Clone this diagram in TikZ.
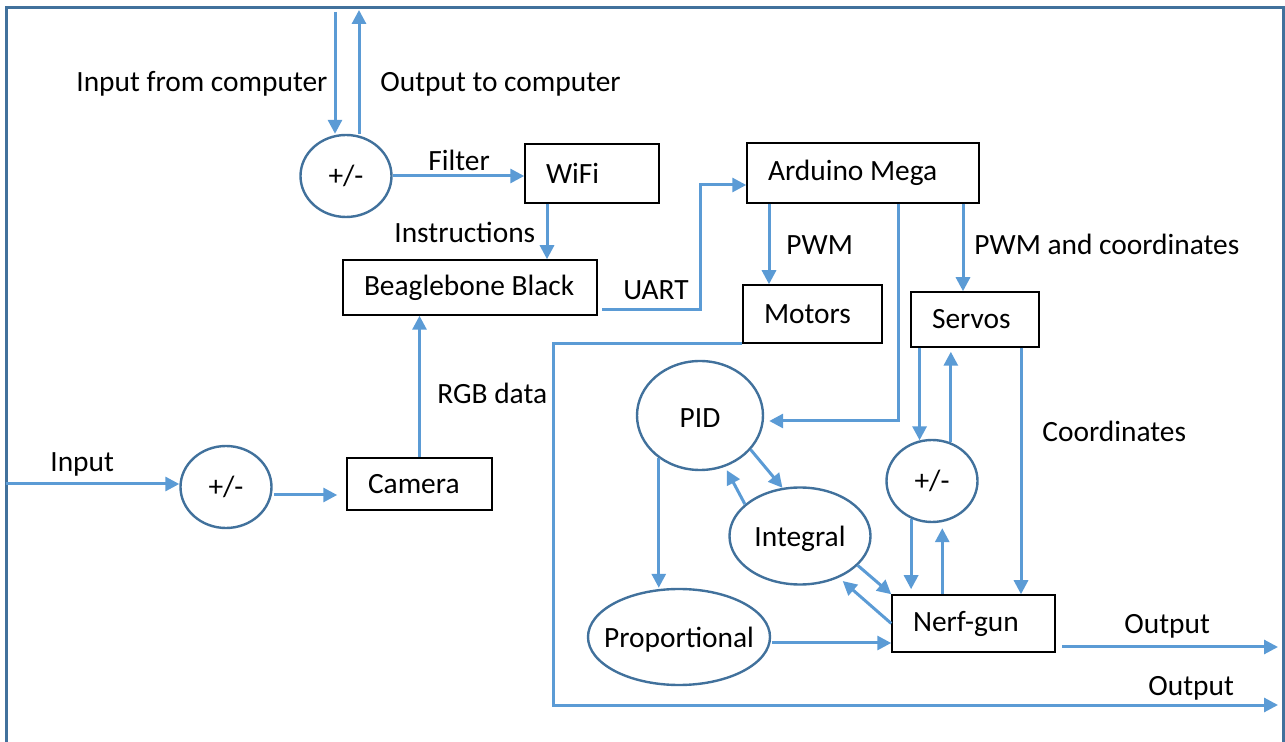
\documentclass[tikz,border=0pt]{standalone}
\usepackage{fontspec}
\setmainfont{Carlito}
\usetikzlibrary{calc}
\usetikzlibrary{shapes.geometric}
\usetikzlibrary{arrows.meta}
\definecolor{flowblue}{RGB}{91,155,213}
\definecolor{edgeblue}{RGB}{65,113,156}

\begin{document}
\begin{tikzpicture}[x=0.5pt,y=-0.5pt,font=\fontsize{14.7}{18}\selectfont]
	\tikzset{flow/.style={draw=flowblue,line width=1.5pt,-{Triangle[length=7pt,width=7pt]}}}
	\tikzstyle{every edge}=[draw,flow]
	\tikzset{block/.style 2 args={draw,line width=0.75pt,inner xsep=0pt,inner ysep=0pt,text width=#1,minimum height=#2,align=left,execute at begin node={\spaceskip=0pt\xspaceskip=0pt\hspace*{10.5pt}}}}
	\tikzset{oval/.style 2 args={ellipse,draw=edgeblue,line width=1.2pt,inner sep=0pt,minimum width=#1,minimum height=#2}}
	\tikzset{sumjunction/.style={oval={45.5pt}{41pt}}}
	\tikzset{lbl/.style={inner sep=0pt,anchor=west}}
	\tikzset{every label/.style={yshift=-1.5pt}}
	\useasboundingbox (0,0) rectangle (1285,742);
	\draw[edgeblue,line width=1.5pt] (6,8) rectangle (1283,760);
	% Place Nodes
	\node[sumjunction] (S1) at (346,176) {+/-};
	\node[block={67pt}{29.5pt}] (WiFi) at (592,173.5) {WiFi};
	\node[block={127pt}{27.5pt}] (BB) at (470,287.5) {Beaglebone Black};
	\node[block={116pt}{30pt}] (Ard) at (863,173) {Arduino Mega};
	\node[block={69.5pt}{29pt}] (Motors) at (812.5,314) {Motors};
	\node[block={64pt}{27.5pt}] (Servos) at (975,319.5) {Servos};
	\node[block={81.5pt}{28.5pt}] (Nerf) at (973.5,623.5) {Nerf-gun};
	\node[block={72.5pt}{26pt}] (Camera) at (419.5,484) {Camera};
	\node[sumjunction] (S2) at (226,487) {+/-};
	\node[sumjunction] (S3) at (932,481) {+/-};
	\node[oval={63pt}{54.5pt},label=center:PID] (PID) at (700,415.5) {};
	\node[oval={70.5pt}{48.5pt},label=center:Integral] (Int) at (800,536) {};
	\node[oval={91pt}{48pt},label=center:Proportional] (Prop) at (679,637) {};
	% Free ends and bends
	\coordinate (pcin) at (335,12);
	\coordinate (pcout) at (359,10);
	\coordinate (ins) at (547,0);
	\coordinate (uart1) at (602,310);
	\coordinate (uart2) at (700,185);
	\coordinate (pwm) at (769,0);
	\coordinate (pwmc) at (963,0);
	\coordinate (pidx) at (898,0);
	\coordinate (crd) at (1021,0);
	\coordinate (mo) at (553,705);
	\coordinate (out1) at (1278,647);
	\coordinate (out2) at (1278,705);
	\coordinate (inp) at (6,484);
	\coordinate (scam) at (274,495);
	\coordinate (pn) at (772,643);
	\coordinate (nout) at (1062,647);
	% Label nodes
	\node[lbl] (lInComp) at (76,84) {Input from computer};
	\node[lbl] (lOutComp) at (380,84) {Output to computer};
	\node[lbl] (lFilter) at (428,160) {Filter};
	\node[lbl] (lInstr) at (394,232) {Instructions};
	\node[lbl] (lUart) at (623,290) {UART};
	\node[lbl] (lPwm) at (786,245) {PWM};
	\node[lbl] (lPwmC) at (974,244) {PWM and coordinates};
	\node[lbl] (lCoord) at (1042,431) {Coordinates};
	\node[lbl] (lRgb) at (437,393) {RGB data};
	\node[lbl] (lInput) at (50,464) {Input};
	\node[lbl] (lOut1) at (1124,626) {Output};
	\node[lbl] (lOut2) at (1148,688) {Output};
	% Draw flow paths
	\path
	(pcin) edge (pcin |- S1.north)
	(S1.north -| pcout) edge (pcout)
	(S1.east) edge (S1.east -| WiFi.west)
	(WiFi.south -| ins) edge (BB.north -| ins)
	(Ard.south -| pwm) edge (Motors.north -| pwm)
	(Ard.south -| pwmc) edge (Servos.north -| pwmc)
	(Servos.south -| crd) edge (Nerf.north -| crd)
	(S3.107 |- Servos.south) edge (S3.107)
	(S3.64) edge[shorten >=2pt] (S3.64 |- Servos.south)
	(S3.241) edge[shorten >=2.5pt] (S3.241 |- Nerf.north)
	(S3.284 |- Nerf.north) edge[shorten >=3pt] (S3.284)
	(PID.-34) edge (Int.110)
	(Int.150) edge[shorten >=2pt] (PID.-64)
	(Int.-27) edge (Nerf.north west)
	(Nerf.west) edge[shorten >=2.5pt] (Int.-47)
	(PID.226) edge (PID.226 |- Prop.north)
	(pn) edge (pn -| Nerf.west)
	(nout) edge (out1)
	(Camera.north) edge (Camera.north |- BB.south)
	(inp) edge (inp -| S2.west)
	(scam) edge[shorten >=4.5pt] (scam -| Camera.west);
	\draw[flow] (uart1) -| (uart2) -- (uart2 -| Ard.west);
	\draw[flow] (Ard.south -| pidx) |- ($(PID.east)+(5,5.5)$);
	\draw[flow] (Motors.south west) -| (mo) -- (out2);
\end{tikzpicture}
\end{document}
